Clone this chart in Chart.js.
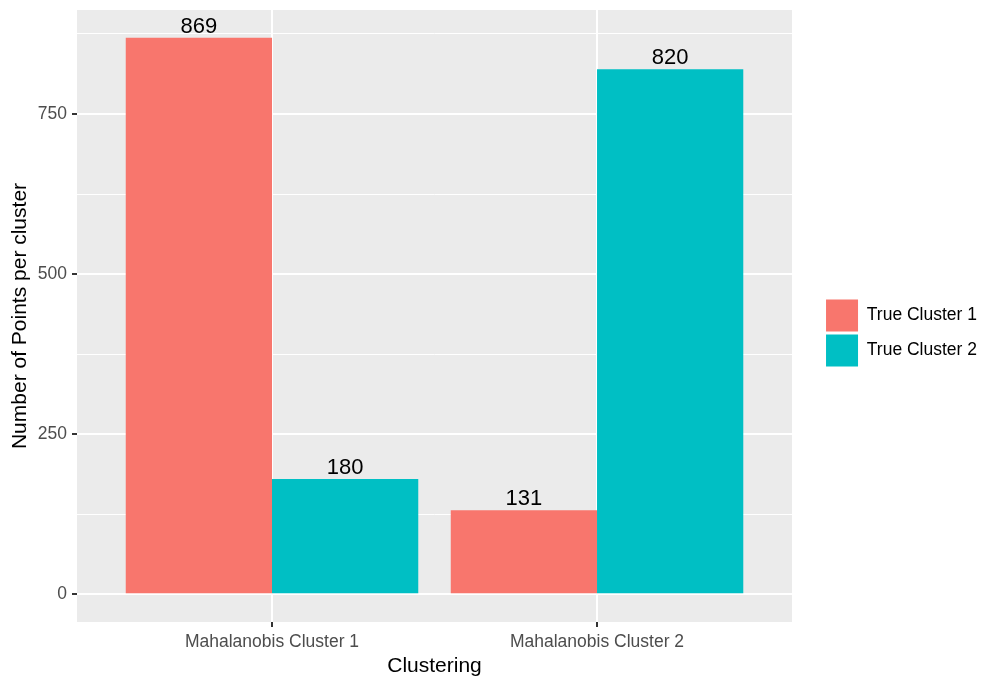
<!DOCTYPE html>
<html>
<head>
<meta charset="utf-8">
<script src="https://cdn.jsdelivr.net/npm/chart.js@4/dist/chart.umd.min.js"></script>
<style>
  html, body { margin: 0; padding: 0; background: #ffffff; }
  #wrap { width: 1008px; height: 688px; }
</style>
</head>
<body>
<div id="wrap"><canvas id="c" width="1008" height="688"></canvas></div>
<script>
// ---- data ----
const categories = ['Mahalanobis Cluster 1', 'Mahalanobis Cluster 2'];
const seriesNames = ['True Cluster 1', 'True Cluster 2'];
const trueCluster1 = [869, 131];
const trueCluster2 = [180, 820];
const yMajorTicks = [0, 250, 500, 750];
const yMinorTicks = [125, 375, 625, 875];
const xTitle = 'Clustering';
const yTitle = 'Number of Points per cluster';

const FONT = "'Liberation Sans', Arial, sans-serif";
const colors = ['#F8766D', '#00BFC4'];

function toPoints(vals) { return categories.map((c, i) => ({ x: i + 1, y: vals[i] })); }

const panelBg = {
  id: 'panelBg',
  beforeDraw(chart) {
    const { ctx, chartArea: a } = chart;
    ctx.save();
    ctx.fillStyle = '#EBEBEB';
    ctx.fillRect(a.left, a.top, a.right - a.left, a.bottom - a.top);
    ctx.restore();
  }
};

const valueLabels = {
  id: 'valueLabels',
  afterDatasetsDraw(chart) {
    const { ctx } = chart;
    ctx.save();
    ctx.font = '22px ' + FONT;
    ctx.fillStyle = '#000000';
    ctx.textAlign = 'center';
    ctx.textBaseline = 'alphabetic';
    chart.data.datasets.forEach((ds, di) => {
      const meta = chart.getDatasetMeta(di);
      meta.data.forEach((el, i) => {
        ctx.fillText(String(ds.data[i].y), el.x, el.y - 5);
      });
    });
    ctx.restore();
  }
};

const allYTicks = yMajorTicks.concat(yMinorTicks).sort((a, b) => a - b);
const isMajor = v => yMajorTicks.indexOf(v) >= 0;

new Chart(document.getElementById('c'), {
  type: 'bar',
  data: {
    datasets: [
      { label: seriesNames[0], data: toPoints(trueCluster1), backgroundColor: colors[0], borderWidth: 0 },
      { label: seriesNames[1], data: toPoints(trueCluster2), backgroundColor: colors[1], borderWidth: 0 }
    ]
  },
  options: {
    responsive: false,
    animation: false,
    devicePixelRatio: 1,
    categoryPercentage: 0.9,
    barPercentage: 1.0,
    layout: { padding: { top: 10, left: 0, right: 21, bottom: 0 } },
    plugins: {
      tooltip: { enabled: false },
      legend: {
        position: 'right',
        fullSize: false,
        title: { display: true, text: '', font: { size: 10, lineHeight: 1.2 }, padding: { top: 11, bottom: 11 } },
        labels: {
          boxWidth: 32,
          boxHeight: 32,
          padding: 3,
          color: '#000000',
          font: { family: FONT, size: 17.5 }
        }
      }
    },
    scales: {
      x: {
        type: 'linear',
        offset: false,
        min: 0.4,
        max: 2.6,
        afterBuildTicks(scale) { scale.ticks = categories.map((c, i) => ({ value: i + 1 })); },
        afterFit(scale) { scale.height = 66; },
        ticks: {
          callback: v => categories[Math.round(v) - 1],
          color: '#4D4D4D',
          font: { family: FONT, size: 17.5 },
          padding: 5,
          maxRotation: 0,
          autoSkip: false
        },
        grid: { color: '#FFFFFF', lineWidth: 2, tickColor: '#333333', tickLength: 5, tickWidth: 2, offset: false },
        border: { display: false },
        title: { display: true, text: xTitle, color: '#000000', font: { family: FONT, size: 21 }, padding: { top: 0, bottom: 9 } }
      },
      y: {
        min: -43.45,
        max: 912.45,
        afterBuildTicks(scale) { scale.ticks = allYTicks.map(v => ({ value: v })); },
        afterFit(scale) { scale.width = 77; scale.paddingTop = 0; scale.paddingBottom = 0; },
        ticks: {
          callback: v => isMajor(v) ? String(v) : '',
          color: '#4D4D4D',
          font: { family: FONT, size: 17.5 },
          padding: 5,
          autoSkip: false
        },
        grid: {
          color: '#FFFFFF',
          lineWidth: c => (c.tick && isMajor(c.tick.value)) ? 2 : 1,
          tickColor: c => (c.tick && isMajor(c.tick.value)) ? '#333333' : 'rgba(0,0,0,0)',
          tickLength: 5,
          tickWidth: 2
        },
        border: { display: false },
        title: { display: true, text: yTitle, color: '#000000', font: { family: FONT, size: 21 }, padding: { top: 8, bottom: 0 } }
      },
      gap: {
        type: 'linear',
        position: 'right',
        display: true,
        afterFit(scale) { scale.width = 31; scale.paddingTop = 0; scale.paddingBottom = 0; },
        ticks: { display: false },
        grid: { display: false },
        border: { display: false }
      }
    }
  },
  plugins: [panelBg, valueLabels]
});
</script>
</body>
</html>
